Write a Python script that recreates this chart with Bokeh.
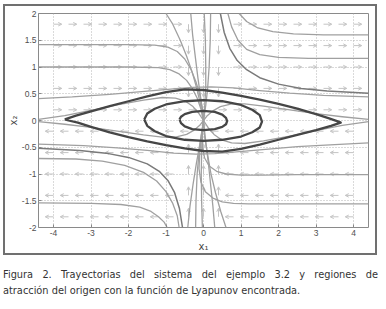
from bokeh.plotting import figure
from bokeh.models import FixedTicker, Arrow, OpenHead, ColumnDataSource, Div, InlineStyleSheet, Title
from bokeh.layouts import column
from bokeh.embed import file_html
from bokeh.resources import INLINE

# ---------------- data ----------------
x_ticks = [-4, -3, -2, -1, 0, 1, 2, 3, 4]
x_tick_labels = ["-4", "-3", "-2", "-1", "0", "1", "2", "3", "4"]
y_ticks = [-2, -1.5, -1, -0.5, 0, 0.5, 1, 1.5, 2]
y_tick_labels = ["-2", "-1.5", "-1", "-0.5", "0", "0.5", "1", "1.5", "2"]

# quiver grid and arrow directions (R right, L left, D down, U up)
q_x = [-4.0, -3.6, -3.2, -2.8, -2.4, -2.0, -1.6, -1.2, -0.8, -0.4, 0.0,
       0.4, 0.8, 1.2, 1.6, 2.0, 2.4, 2.8, 3.2, 3.6, 4.0]
q_y = [1.8, 1.4, 1.0, 0.6, 0.2, -0.2, -0.6, -1.0, -1.4, -1.8]
q_dirs = [
    "RRRRRRRRRDDDRRRRRRRRR",
    "RRRRRRRRRDDDRRRRRRRRR",
    "RRRRRRRRRDDDRRRRRRRRR",
    "RRRRRRRRRDDDRRRRRRRRR",
    "RRRRRRRRRRDRRRRRRRRRR",
    "LLLLLLLLLLULLLLLLLLLL",
    "LLLLLLLLLUUULLLLLLLLL",
    "LLLLLLLLLUUULLLLLLLLL",
    "LLLLLLLLLUUULLLLLLLLL",
    "LLLLLLLLLUUULLLLLLLLL",
]

# Lyapunov level curves (dark)
big_x = [-3.70, -3.40, -3.00, -2.50, -2.00, -1.50, -1.00, -0.50, 0.00, 0.50, 1.00, 1.50, 2.00, 2.50, 3.00, 3.35, 3.60, 3.66,
         3.40, 3.00, 2.50, 2.00, 1.50, 1.00, 0.50, 0.00, -0.50, -1.00, -1.50, -2.00, -2.50, -3.00, -3.35, -3.60, -3.70]
big_y = [0.02, 0.09, 0.17, 0.27, 0.36, 0.45, 0.53, 0.58, 0.57, 0.52, 0.46, 0.39, 0.31, 0.22, 0.12, 0.04, -0.02, -0.04,
         -0.10, -0.18, -0.27, -0.36, -0.45, -0.53, -0.58, -0.57, -0.52, -0.46, -0.39, -0.31, -0.22, -0.12, -0.04, 0.00, 0.02]
mid_x = [-1.58, -1.50, -1.30, -1.00, -0.50, 0.00, 0.50, 1.00, 1.30, 1.50, 1.56,
         1.50, 1.30, 1.00, 0.50, 0.00, -0.50, -1.00, -1.30, -1.50, -1.58]
mid_y = [0.02, 0.13, 0.22, 0.30, 0.36, 0.38, 0.36, 0.29, 0.20, 0.10, -0.02,
         -0.13, -0.22, -0.30, -0.36, -0.38, -0.36, -0.29, -0.20, -0.10, 0.02]
small_x = [-0.64, -0.60, -0.50, -0.30, 0.00, 0.30, 0.50, 0.60, 0.63,
           0.60, 0.50, 0.30, 0.00, -0.30, -0.50, -0.60, -0.64]
small_y = [0.02, 0.07, 0.12, 0.16, 0.18, 0.16, 0.11, 0.05, -0.01,
           -0.07, -0.12, -0.16, -0.18, -0.16, -0.11, -0.05, 0.02]

# trajectories (gray), upper half
t01_x = [-4.4, -3.0, -2.0, -1.3, -0.95, -0.7, -0.5, -0.33, -0.2, -0.1, -0.03, 0.0]
t01_y = [1.42, 1.42, 1.42, 1.41, 1.37, 1.29, 1.15, 0.95, 0.72, 0.48, 0.22, 0.0]
t02_x = [-4.4, -3.0, -2.0, -1.2, -0.9, -0.65, -0.45, -0.3, -0.17, -0.07, 0.0]
t02_y = [1.0, 1.0, 1.0, 0.99, 0.95, 0.87, 0.75, 0.6, 0.42, 0.22, 0.0]
t03_x = [-4.4, -3.5, -2.5, -1.5, -0.8, -0.3, 0.2, 0.8, 1.5, 2.3, 3.2, 4.4]
t03_y = [0.41, 0.44, 0.49, 0.55, 0.59, 0.62, 0.63, 0.61, 0.56, 0.51, 0.47, 0.44]
t04_x = [-4.4, -3.7, -3.0, -2.3, -1.6, -1.1, -0.75, -0.48, -0.28, -0.12, 0.0]
t04_y = [0.02, 0.09, 0.19, 0.29, 0.38, 0.43, 0.42, 0.36, 0.26, 0.13, 0.0]
t05_x = [-1.0, -0.82, -0.62, -0.45, -0.3, -0.18, -0.08, 0.0]
t05_y = [2.0, 1.8, 1.5, 1.2, 0.9, 0.6, 0.3, 0.0]
t06_x = [-0.34, -0.29, -0.22, -0.15, -0.08, -0.02, 0.0]
t06_y = [2.0, 1.6, 1.2, 0.8, 0.45, 0.15, 0.0]
t07_x = [0.02, 0.05, 0.06, 0.06, 0.03, 0.0]
t07_y = [2.0, 1.5, 1.0, 0.6, 0.25, 0.0]
t08_x = [0.19, 0.18, 0.15, 0.11, 0.06, 0.0]
t08_y = [2.0, 1.5, 1.0, 0.6, 0.28, 0.0]
t10_x = [0.95, 1.15, 1.45, 1.85, 2.4, 3.2, 4.4]
t10_y = [2.0, 1.85, 1.73, 1.66, 1.62, 1.6, 1.6]
t11_x = [0.65, 0.75, 0.92, 1.15, 1.5, 2.0, 2.8, 4.4]
t11_y = [2.0, 1.75, 1.5, 1.33, 1.23, 1.18, 1.16, 1.16]
t12_x = [4.4, 3.7, 3.0, 2.3, 1.6, 1.1, 0.75, 0.45, 0.25, 0.1, 0.0]
t12_y = [0.02, 0.07, 0.13, 0.2, 0.27, 0.31, 0.31, 0.26, 0.18, 0.09, 0.0]

# trajectories (gray), lower half
b01_x = [0.0, -0.05, -0.1, -0.12, -0.07, 0.05, 0.25, 0.5, 0.8, 1.2, 2.0, 3.0, 4.4]
b01_y = [0.0, -0.3, -0.6, -0.9, -1.15, -1.33, -1.45, -1.52, -1.55, -1.56, -1.56, -1.56, -1.56]
b02_x = [0.0, -0.03, -0.03, 0.03, 0.15, 0.35, 0.6, 1.0, 1.6, 2.5, 3.5, 4.4]
b02_y = [0.0, -0.25, -0.5, -0.7, -0.85, -0.95, -1.0, -1.02, -1.02, -1.01, -1.01, -1.01]
b03_x = [4.4, 3.5, 2.5, 1.5, 0.8, 0.3, -0.2, -0.8, -1.5, -2.3, -3.2, -4.4]
b03_y = [-0.42, -0.45, -0.49, -0.55, -0.59, -0.62, -0.63, -0.61, -0.56, -0.51, -0.47, -0.44]
b04_x = [4.4, 3.7, 3.0, 2.3, 1.6, 1.1, 0.75, 0.48, 0.28, 0.12, 0.0]
b04_y = [-0.02, -0.09, -0.19, -0.29, -0.38, -0.43, -0.42, -0.36, -0.26, -0.13, 0.0]
b05_x = [-4.4, -3.7, -3.0, -2.3, -1.6, -1.1, -0.75, -0.45, -0.25, -0.1, 0.0]
b05_y = [-0.02, -0.07, -0.13, -0.2, -0.27, -0.31, -0.31, -0.26, -0.18, -0.09, 0.0]
b06_x = [0.6, 0.46, 0.32, 0.2, 0.1, 0.03, 0.0]
b06_y = [-2.0, -1.7, -1.35, -1.0, -0.6, -0.3, 0.0]
b07_x = [0.3, 0.25, 0.19, 0.13, 0.07, 0.02, 0.0]
b07_y = [-2.0, -1.6, -1.2, -0.8, -0.45, -0.15, 0.0]
b08_x = [-0.03, -0.05, -0.06, -0.05, -0.03, 0.0]
b08_y = [-2.0, -1.5, -1.0, -0.6, -0.25, 0.0]
b10_x = [-4.4, -3.0, -2.2, -1.7, -1.4, -1.2, -1.05, -0.97]
b10_y = [-1.54, -1.55, -1.57, -1.62, -1.7, -1.8, -1.9, -2.0]
b11_x = [-4.4, -3.4, -2.7, -2.1, -1.6, -1.25, -1.0, -0.82, -0.7, -0.65]
b11_y = [-0.71, -0.72, -0.76, -0.84, -0.97, -1.13, -1.33, -1.55, -1.78, -2.0]
b13_x = [-0.21, -0.2, -0.17, -0.12, -0.06, 0.0]
b13_y = [-2.0, -1.5, -1.0, -0.6, -0.28, 0.0]
b14_x = [-0.42, -0.36, -0.28, -0.19, -0.1, -0.03, 0.0]
b14_y = [-2.0, -1.6, -1.2, -0.8, -0.45, -0.15, 0.0]

# separatrix-like darker trajectories
t09_x = [0.45, 0.55, 0.7, 0.9, 1.15, 1.5, 2.0, 2.6, 3.3, 4.4]
t09_y = [2.0, 1.65, 1.35, 1.12, 0.95, 0.8, 0.68, 0.6, 0.55, 0.51]
b09_x = [-0.56, -0.64, -0.77, -0.95, -1.18, -1.5, -2.0, -2.6, -3.3, -4.4]
b09_y = [-2.0, -1.65, -1.35, -1.12, -0.95, -0.81, -0.69, -0.61, -0.56, -0.52]

cap_line1 = "Figura 2. Trayectorias del sistema del ejemplo 3.2 y regiones de"
cap_line2 = "atracción del origen con la función de Lyapunov encontrada."
x_label = "x\u2081"
y_label = "x\u2082"

# ---------------- figure ----------------
p = figure(width=370, height=247, x_range=(-4.4, 4.4), y_range=(-2, 2),
           output_backend="svg", toolbar_location=None,
           min_border_left=31, min_border_right=7, min_border_top=7, min_border_bottom=26,
           background_fill_color="white", border_fill_color="white",
           margin=(6, 0, 0, 5))
p.stylesheets = [InlineStyleSheet(css=":host { box-shadow: 0 0 0 2px #707070; }")]
p.outline_line_color = "#8a8a8a"
p.outline_line_width = 1

for ax in (p.xaxis, p.yaxis):
    ax.axis_line_color = None
    ax.major_tick_in = 3
    ax.major_tick_out = 0
    ax.minor_tick_line_color = None
    ax.major_tick_line_color = "#888888"
    ax.major_label_text_font = "Liberation Sans"
    ax.major_label_text_font_size = "8.5px"
    ax.major_label_text_color = "#505050"
    ax.major_label_standoff = 2

p.xaxis.ticker = FixedTicker(ticks=x_ticks)
p.yaxis.ticker = FixedTicker(ticks=y_ticks)
p.xaxis.major_label_overrides = dict(zip(x_ticks, x_tick_labels))
p.yaxis.major_label_overrides = dict(zip(y_ticks, y_tick_labels))

# axis titles as side titles (rendered in the border panels)
for side, txt in (("below", x_label), ("left", y_label)):
    p.add_layout(Title(text=txt, align="center", text_font="DejaVu Sans", text_font_size="10px",
                       text_font_style="normal", text_color="#444444", standoff=0, offset=0), side)

for g in (p.xgrid, p.ygrid):
    g.grid_line_color = "#b4b4b4"
    g.grid_line_dash = "1 2"
    g.grid_line_width = 1

# quiver arrows
ax0, ay0, ax1, ay1 = [], [], [], []
step = {"R": (1, 0), "L": (-1, 0), "D": (0, -1), "U": (0, 1)}
for row, yv in zip(q_dirs, q_y):
    for ch, xv in zip(row, q_x):
        dx, dy = step[ch]
        ax0.append(xv)
        ay0.append(yv)
        ax1.append(xv + dx * 0.22)
        ay1.append(yv + dy * 0.16)
qsrc = ColumnDataSource(dict(x0=ax0, y0=ay0, x1=ax1, y1=ay1))
arrows = Arrow(end=OpenHead(size=3.5, line_color="#c4c4c4", line_width=1),
               x_start="x0", y_start="y0", x_end="x1", y_end="y1", source=qsrc,
               line_color="#c4c4c4", line_width=1, level="underlay")
p.add_layout(arrows)

gray_xs = [t01_x, t02_x, t03_x, t04_x, t05_x, t06_x, t07_x, t08_x, t10_x, t11_x, t12_x,
           b01_x, b02_x, b03_x, b04_x, b05_x, b06_x, b07_x, b08_x, b10_x, b11_x, b13_x, b14_x]
gray_ys = [t01_y, t02_y, t03_y, t04_y, t05_y, t06_y, t07_y, t08_y, t10_y, t11_y, t12_y,
           b01_y, b02_y, b03_y, b04_y, b05_y, b06_y, b07_y, b08_y, b10_y, b11_y, b13_y, b14_y]
p.multi_line(xs=gray_xs, ys=gray_ys, line_color="#a0a0a0", line_width=1.3, line_join="round")
p.multi_line(xs=[t09_x, b09_x], ys=[t09_y, b09_y], line_color="#7a7a7a", line_width=1.5, line_join="round")

p.line(big_x, big_y, line_color="#464646", line_width=2.3, line_join="round")
p.line(mid_x, mid_y, line_color="#464646", line_width=2.3, line_join="round")
p.line(small_x, small_y, line_color="#464646", line_width=2.3, line_join="round")

cap = Div(text=(
    '<div style="font-family:\'DejaVu Sans\';font-size:9.8px;color:#333333;line-height:15.5px;width:375px">'
    f'<div style="text-align:justify;text-align-last:justify">{cap_line1}</div>'
    f'<div>{cap_line2}</div></div>'),
    width=376, height=36, margin=(14, 0, 0, 3))

layout = column(p, cap, spacing=0)

open("out.html", "w").write(file_html(layout, INLINE))
